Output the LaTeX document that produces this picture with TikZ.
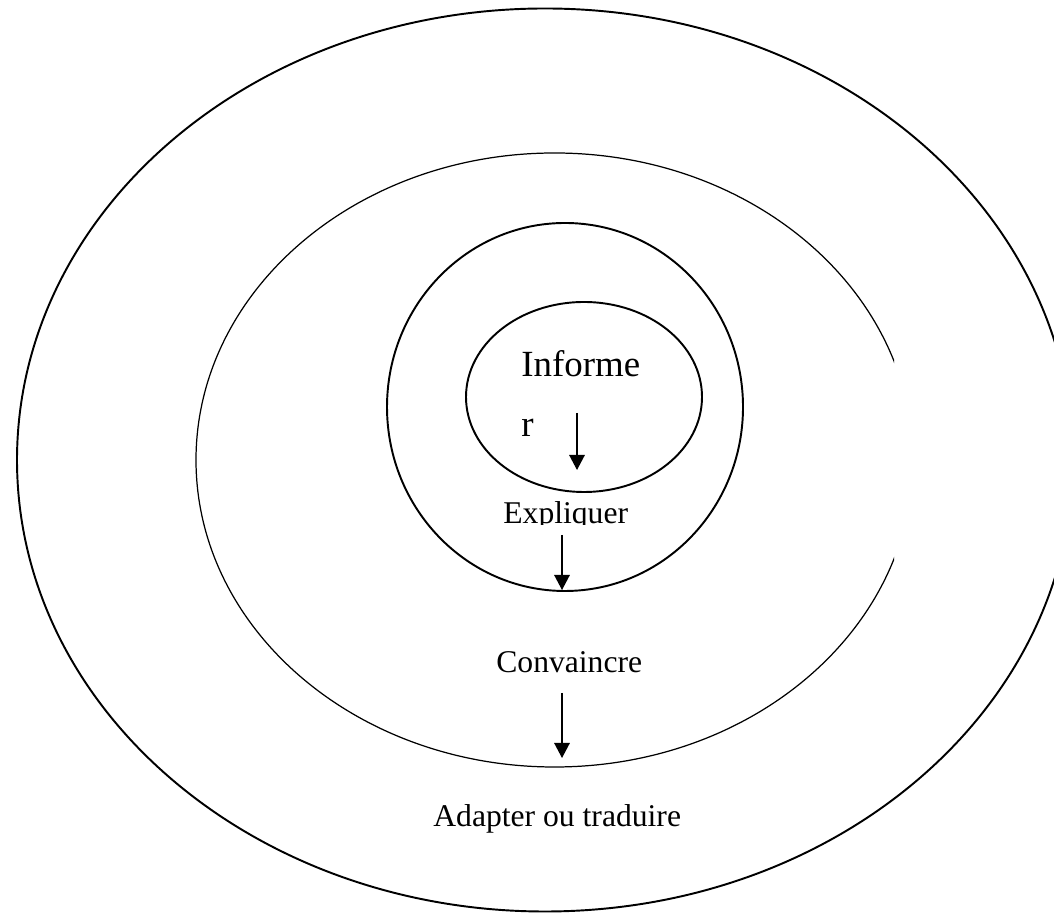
\documentclass[tikz,border=0pt]{standalone}
\usepackage{fontspec}
\setmainfont{Liberation Serif}
\usetikzlibrary{arrows.meta,calc,positioning}

\tikzset{
  ring/.style={black, line width=1.1pt},
  thinring/.style={black, line width=0.7pt},
  flow/.style={black, line width=0.8pt, -{Triangle[length=3mm,width=3.1mm]}},
  word/.style={inner sep=0pt, anchor=base west, font=\fontsize{18}{22}\selectfont}
}

\begin{document}
\begin{tikzpicture}
  % Frame of the page (the outer ring runs off the right edge)
  \clip (0,0) rectangle (21.08,18.28);

  % Centres of the rings
  \coordinate (C1) at (10.90,9.08);
  \coordinate (C2) at (11.09,9.08);
  \coordinate (C3) at (11.30,10.14);
  \coordinate (C4) at (11.68,10.34);

  % Outer ring
  \draw[ring] (C1) ellipse (10.56 and 9.03);

  % Second ring, open on the right side
  \begin{scope}
    \clip (0,0) rectangle (17.88,18.28);
    \draw[thinring] (C2) ellipse (7.17 and 6.14);
  \end{scope}

  % Third ring and inner ring
  \draw[ring] (C3) ellipse (3.56 and 3.68);
  \draw[ring] (C4) ellipse (2.36 and 1.90);

  % Labels
  \node[word, anchor=north west, align=left, font=\fontsize{21}{28}\selectfont]
    (informer) at (10.42,11.28) {Informe\\[6pt]r};
  \begin{scope}
    \clip (9.8,7.79) rectangle (13.0,8.6);
    \node[word] (expliquer) at (10.06,7.80) {Expliquer};
  \end{scope}
  \node[word] (convaincre) at (9.92,4.82) {Convaincre};
  \node[word] (adapter) at (8.66,1.74) {Adapter ou traduire};

  % Arrows between the levels
  \coordinate (A1s) at (11.54,10.02);
  \coordinate (A1e) at (11.54,8.88);
  \coordinate (A2s) at (11.24,7.58);
  \coordinate (A2e) at (11.24,6.48);
  \coordinate (A3s) at (11.24,4.42);
  \coordinate (A3e) at (11.24,3.12);
  \draw[flow] (A1s) -- (A1e);
  \draw[flow] (A2s) -- (A2e);
  \draw[flow] (A3s) -- (A3e);
\end{tikzpicture}
\end{document}
